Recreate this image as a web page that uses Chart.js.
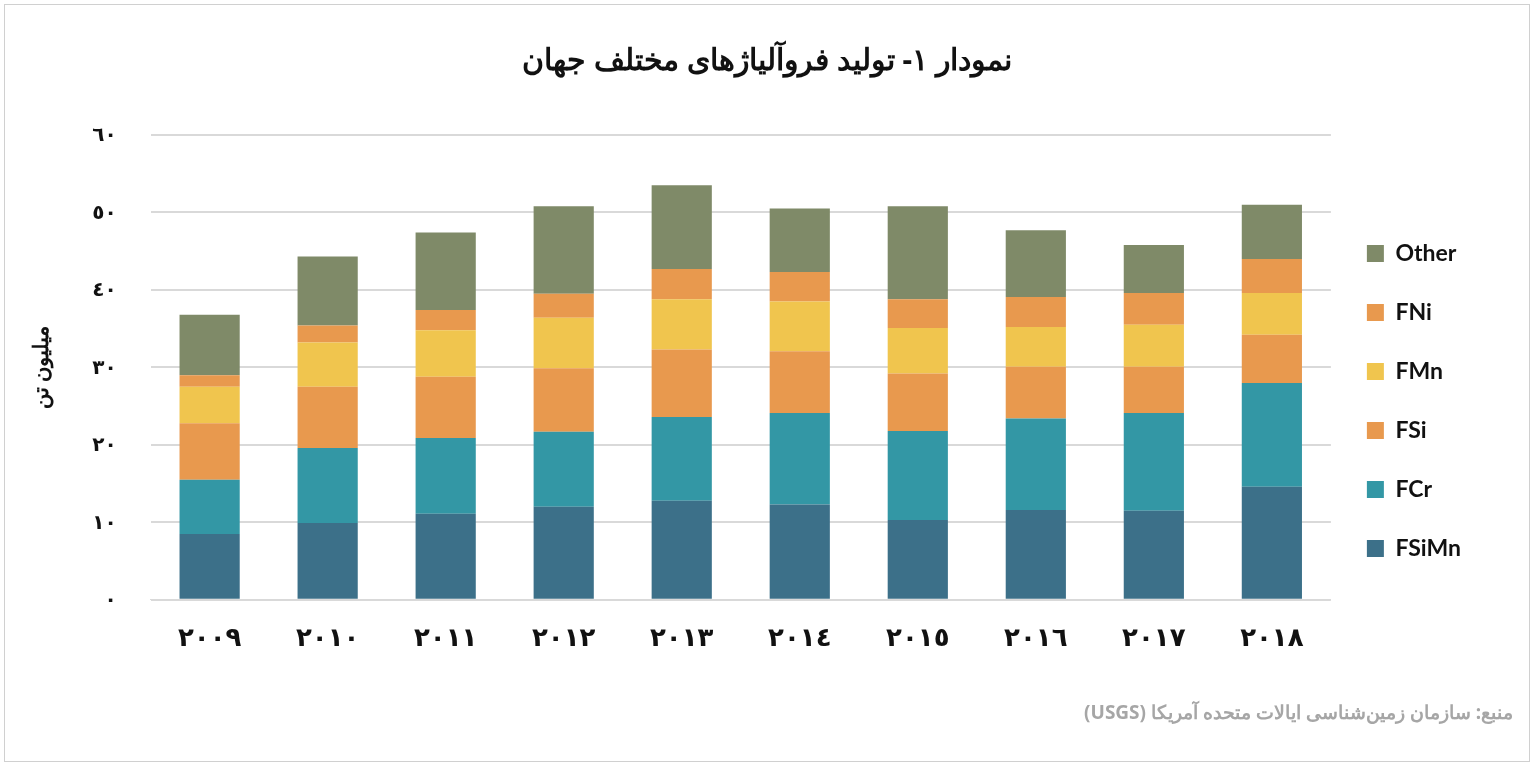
<!DOCTYPE html>
<html><head><meta charset="utf-8">
<script src="https://cdn.jsdelivr.net/npm/chart.js@4"></script>
<style>
html,body{margin:0;padding:0;background:#fff;}
#wrap{position:absolute;left:4px;top:4px;width:1526px;height:758px;border:1px solid #d0d0d0;box-sizing:border-box;}
canvas{display:block;}
</style></head><body>
<div id="wrap"><canvas id="c"></canvas></div>
<script>
const years = ['٢٠٠٩','٢٠١٠','٢٠١١','٢٠١٢','٢٠١٣','٢٠١٤','٢٠١٥','٢٠١٦','٢٠١٧','٢٠١٨'];
const FSiMn = [8.5,9.9,11.1,12.0,12.8,12.3,10.3,11.6,11.5,14.6];
const FCr   = [7.0,9.7,9.8,9.7,10.8,11.8,11.5,11.8,12.6,13.4];
const FSi   = [7.3,7.9,7.9,8.2,8.7,8.0,7.4,6.7,6.0,6.2];
const FMn   = [4.7,5.7,6.0,6.5,6.5,6.4,5.9,5.1,5.4,5.4];
const FNi   = [1.5,2.2,2.6,3.1,3.9,3.8,3.7,3.9,4.1,4.4];
const Other = [7.8,8.9,10.0,11.3,10.8,8.2,12.0,8.6,6.2,7.0];
const yTicks = {0:'٠',10:'١٠',20:'٢٠',30:'٣٠',40:'٤٠',50:'٥٠',60:'٦٠'};
const titleText = 'نمودار ۱- تولید فروآلیاژهای مختلف جهان';
const sourceText = 'منبع: سازمان زمین‌شناسی ایالات متحده آمریکا (USGS)';
const font = 'Lato, "DejaVu Sans", sans-serif';
const ds = (label,data,color)=>({label,data,backgroundColor:color,borderWidth:0,barPercentage:0.51,categoryPercentage:1});
const rtlText = {id:'rtlText',afterDraw(chart){
  const ctx=chart.ctx; ctx.save(); ctx.direction='rtl';
  ctx.textAlign='center'; ctx.textBaseline='middle';
  ctx.font='bold 30px "Noto Sans", sans-serif'; ctx.fillStyle='#111';
  ctx.fillText(titleText, 762, 56);
  ctx.textAlign='right'; ctx.font='bold 19px "Noto Sans", sans-serif'; ctx.fillStyle='#a6a6a6';
  ctx.fillText(sourceText, 1508, 709);
  ctx.restore();
}};
new Chart(document.getElementById('c'),{
 type:'bar',
 data:{labels:years,datasets:[
  ds('FSiMn',FSiMn,'#3c7089'),
  ds('FCr',FCr,'#3397a5'),
  ds('FSi',FSi,'#e8994e'),
  ds('FMn',FMn,'#f0c54e'),
  ds('FNi',FNi,'#e8994e'),
  ds('Other',Other,'#7f8a68')
 ]},
 options:{
  responsive:true,maintainAspectRatio:false,animation:false,
  layout:{padding:{left:20,right:58,top:130,bottom:94}},
  plugins:{
   legend:{position:'right',reverse:true,labels:{boxWidth:17,boxHeight:17,padding:36,color:'#111',font:{family:'Lato, sans-serif',size:23,weight:'bold'}}},
   tooltip:{enabled:false}
  },
  scales:{
   x:{stacked:true,grid:{display:false},border:{color:'#d9d9d9'},ticks:{color:'#111',padding:14,font:{family:font,size:26,weight:'bold'}}},
   y:{stacked:true,min:0,max:60,ticks:{stepSize:10,padding:34,color:'#111',font:{family:font,size:20,weight:'bold'},callback:v=>yTicks[v]},
      grid:{color:'#d9d9d9',lineWidth:2,drawTicks:false},border:{display:false},
      title:{display:true,text:'میلیون تن',color:'#111',font:{family:'"Noto Sans",sans-serif',size:21,weight:'bold'}}}
  }
 },
 plugins:[rtlText]
});
</script></body></html>
